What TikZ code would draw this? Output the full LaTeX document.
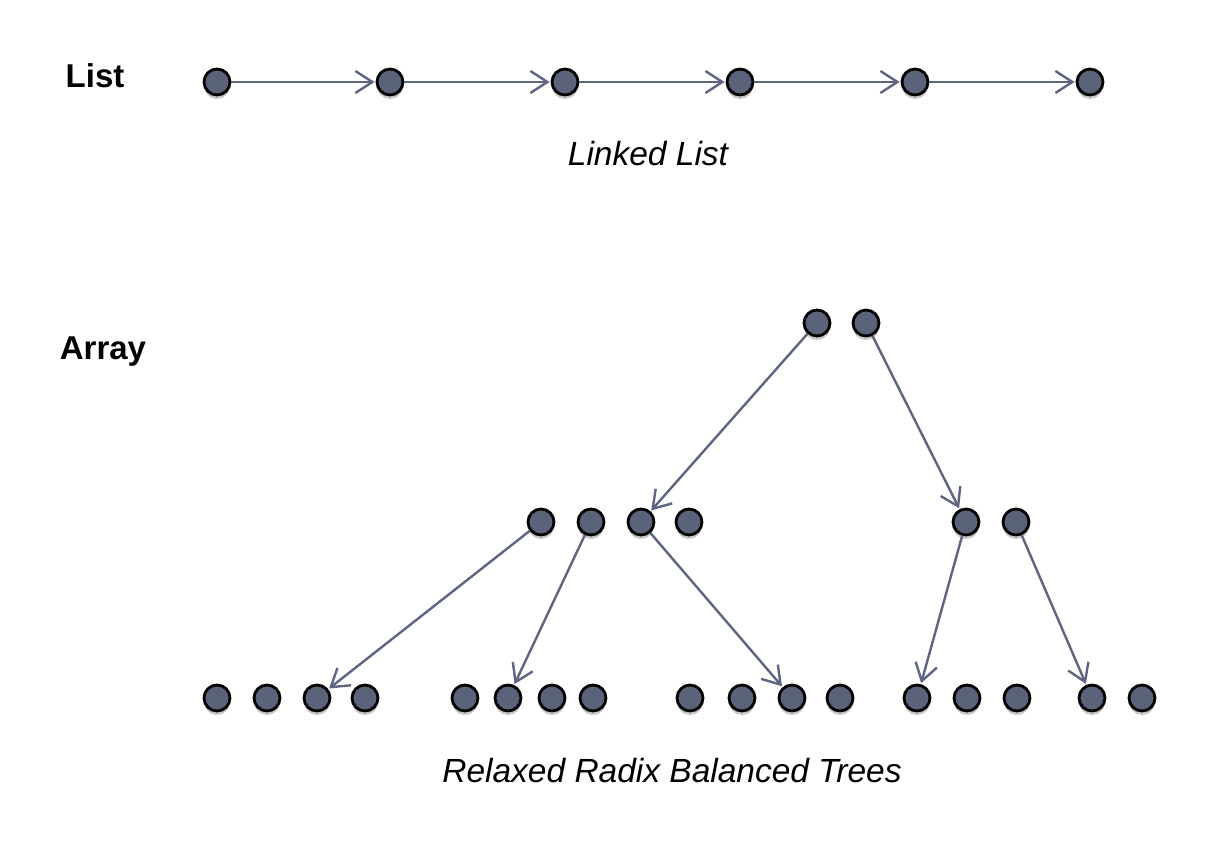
\documentclass[tikz,border=0pt]{standalone}
\usepackage{fontspec}
\setmainfont{Liberation Sans}
\usetikzlibrary{arrows.meta,shadows}

\definecolor{slate}{RGB}{91,99,122}
\definecolor{slateline}{RGB}{94,101,128}

\tikzset{
	rrbpicture/.style = {
		x = 1pt,
		y = -1pt,
		arrow/.style = {
			draw = slateline,
			line width = 2.4pt,
			-{Straight Barb[length=17pt, width=22pt, line width=2.4pt]},
			shorten >= 1pt,
		}
	},
	elem/.style = {
		circle,
		draw = black,
		line width = 2.8pt,
		fill = slate,
		minimum size = 26pt,
		inner sep = 0pt,
		drop shadow = {shadow xshift=0pt, shadow yshift=-4pt, opacity=0.22, fill=black}
	},
	heading/.style = {
		font = \fontsize{33}{38}\selectfont\bfseries
	},
	caption/.style = {
		font = \fontsize{33.5}{40}\selectfont\itshape
	}
}

\begin{document}
\begin{tikzpicture}[rrbpicture]
	\useasboundingbox (0,0) rectangle (1212,842);

	% headings and captions
	\node[heading] (list) at (95,76) {List};
	\node[heading] (array) at (103,352) {Array};
	\node[caption] (linked) at (648,154) {Linked List};
	\node[caption] (rrb) at (672,771) {Relaxed Radix Balanced Trees};

	% linked list
	\node[elem] (l1) at (217,82) {};
	\node[elem] (l2) at (390,82) {};
	\node[elem] (l3) at (565,82) {};
	\node[elem] (l4) at (740,82) {};
	\node[elem] (l5) at (915,82) {};
	\node[elem] (l6) at (1090,82) {};

	% root
	\node[elem] (r1) at (817,323) {};
	\node[elem] (r2) at (866,323) {};

	% inner nodes
	\node[elem] (m1) at (541,522) {};
	\node[elem] (m2) at (591,522) {};
	\node[elem] (m3) at (641,522) {};
	\node[elem] (m4) at (689,522) {};
	\node[elem] (m5) at (966,522) {};
	\node[elem] (m6) at (1016,522) {};

	% leaves
	\node[elem] (b1) at (217,698) {};
	\node[elem] (b2) at (267,698) {};
	\node[elem] (b3) at (317,698) {};
	\node[elem] (b4) at (365,698) {};
	\node[elem] (b5) at (465,698) {};
	\node[elem] (b6) at (508,698) {};
	\node[elem] (b7) at (552,698) {};
	\node[elem] (b8) at (593,698) {};
	\node[elem] (b9) at (690,698) {};
	\node[elem] (b10) at (742,698) {};
	\node[elem] (b11) at (792,698) {};
	\node[elem] (b12) at (840,698) {};
	\node[elem] (b13) at (917,698) {};
	\node[elem] (b14) at (967,698) {};
	\node[elem] (b15) at (1017,698) {};
	\node[elem] (b16) at (1092,698) {};
	\node[elem] (b17) at (1142,698) {};

	\begin{scope}[every path/.style = arrow]
		\path (l1) to (l2);
		\path (l2) to (l3);
		\path (l3) to (l4);
		\path (l4) to (l5);
		\path (l5) to (l6);
	\end{scope}

	\begin{scope}[every path/.style = arrow]
		\path (r1) to (m3);
		\path (r2) to (m5);
		\path (m1) to (b3);
		\path (m2) to (b6);
		\path (m3) to (b11);
		\path (m5) to (b13);
		\path (m6) to (b16);
	\end{scope}
\end{tikzpicture}
\end{document}
